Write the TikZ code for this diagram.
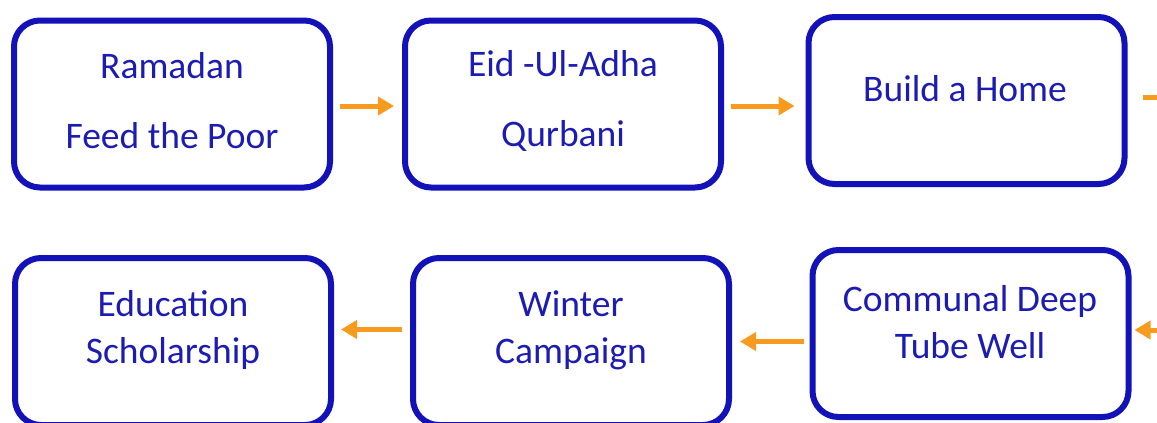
\documentclass[tikz,border=0pt]{standalone}
\usepackage{fontspec}
\setmainfont{Carlito}
\usetikzlibrary{arrows.meta}

\definecolor{boxblue}{HTML}{1212B8}
\definecolor{textblue}{HTML}{1C1CB2}
\definecolor{floworange}{HTML}{F79B1E}

\tikzset{
    box/.style={draw=boxblue, line width=6pt, rounded corners=26pt,
        minimum width=316pt, minimum height=167pt, inner sep=0pt},
    txt/.style={text=textblue, align=center, inner sep=0pt,
        font=\fontsize{37.5}{47}\selectfont},
    widetxt/.style={txt, font=\fontsize{37.5}{70}\selectfont},
    flow/.style={draw=floworange, line width=5pt,
        -{Triangle[length=16pt,width=18pt]}},
}

\begin{document}
\begin{tikzpicture}[x=1pt, y=-1pt]
    \useasboundingbox (0, 0) rectangle (1157, 423);
    \clip (0, 0) rectangle (1157, 423);

    \node [box] (b1) at (172, 104) {};
    \node [widetxt] (t1) at (172, 101) {Ramadan\\Feed the Poor};

    \node [box] (b2) at (563, 104) {};
    \node [widetxt] (t2) at (563, 101) {Eid -Ul-Adha\\Qurbani};

    \node [box] (b3) at (966.5, 100.5) {};
    \node [txt] (t3) at (965, 89) {Build a Home};

    \node [box] (b4) at (173, 341.5) {};
    \node [txt] (t4) at (173, 330) {Education\\Scholarship};

    \node [box] (b5) at (571, 341.5) {};
    \node [txt] (t5) at (571, 330) {Winter\\Campaign};

    \node [box] (b6) at (970.5, 333.5) {};
    \node [txt] (t6) at (970, 322) {Communal Deep\\Tube Well};

    \coordinate (offtop) at (1175, 97);
    \coordinate (offbot) at (1175, 330);

    \draw [flow, shorten <=7pt, shorten >=8pt]
        ([yshift=-2pt]b1.east) -- ([yshift=-2pt]b1.east -| b2.west);
    \draw [flow, shorten <=7pt, shorten >=11pt]
        ([yshift=-2pt]b2.east) -- ([yshift=-2pt]b2.east -| b3.west);
    \draw [flow, shorten <=15pt] ([yshift=3.5pt]b3.east) -- (offtop);

    \draw [flow, shorten >=3pt] (offbot) -- (offbot -| b6.east);
    \draw [flow, shorten <=6pt, shorten >=8pt]
        (b5.east -| b6.west) -- (b5.east);
    \draw [flow, shorten <=8pt, shorten >=7pt]
        ([yshift=12pt]b5.west) -- ([yshift=12pt]b5.west -| b4.east);
\end{tikzpicture}
\end{document}
